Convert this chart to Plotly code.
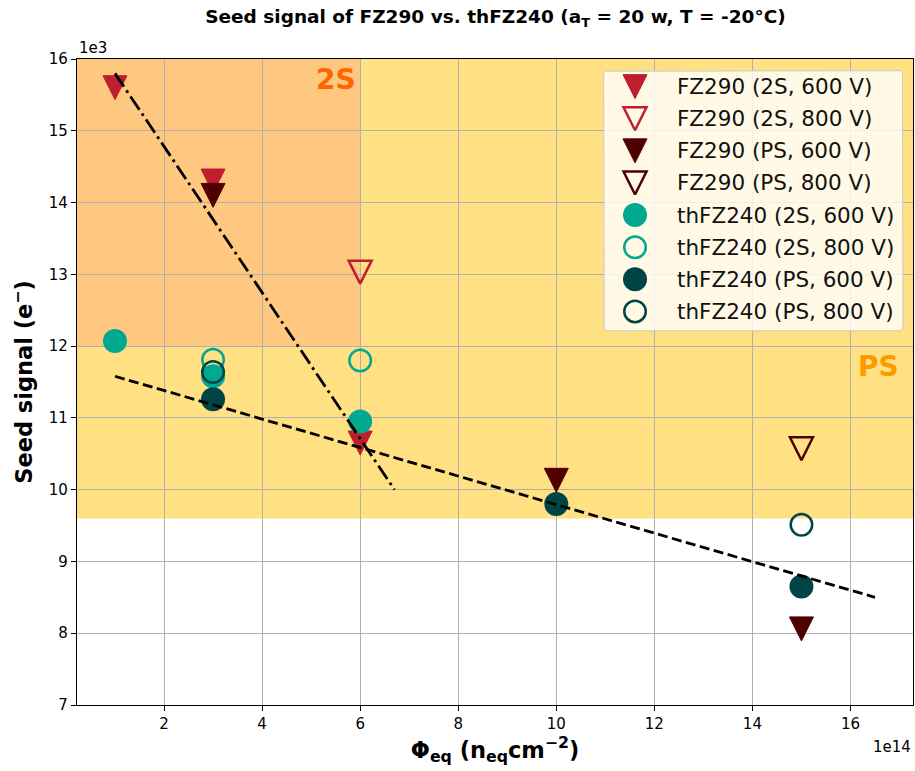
import math
import plotly.graph_objects as go

# Fluence in units of 1e14 n_eq/cm^2, seed signal in units of 1e3 electrons
fz290_2s_600_x = [1, 3, 6]
fz290_2s_600_y = [15.6, 14.3, 10.65]
fz290_2s_800_x = [6]
fz290_2s_800_y = [13.03]
fz290_ps_600_x = [3, 10, 15]
fz290_ps_600_y = [14.1, 10.13, 8.06]
fz290_ps_800_x = [15]
fz290_ps_800_y = [10.57]

thfz240_2s_600_x = [1, 3, 6]
thfz240_2s_600_y = [12.07, 11.58, 10.95]
thfz240_2s_800_x = [3, 6]
thfz240_2s_800_y = [11.81, 11.80]
thfz240_ps_600_x = [3, 10, 15]
thfz240_ps_600_y = [11.26, 9.80, 8.65]
thfz240_ps_800_x = [3, 15]
thfz240_ps_800_y = [11.64, 9.51]

# Linear trends (end points of the fitted lines)
fit_2s_x = [1.0, 6.7]
fit_2s_y = [15.8, 10.0]
fit_ps_x = [1.0, 16.5]
fit_ps_y = [11.58, 8.50]

# Signal requirement bands
ps_band_y = [9.6, 16.0]
s2_band_y = [12.0, 16.0]
s2_band_xmax = 6.0

x_range = [0.225, 17.275]
y_range = [7, 16]

RED = "#BE1E2D"
DARKRED = "#4F0000"
TEAL = "#00A88F"
DARKTEAL = "#004446"

series = [
    ("FZ290 (2S, 600 V)", fz290_2s_600_x, fz290_2s_600_y, RED, "tri", False),
    ("FZ290 (2S, 800 V)", fz290_2s_800_x, fz290_2s_800_y, RED, "tri", True),
    ("FZ290 (PS, 600 V)", fz290_ps_600_x, fz290_ps_600_y, DARKRED, "tri", False),
    ("FZ290 (PS, 800 V)", fz290_ps_800_x, fz290_ps_800_y, DARKRED, "tri", True),
    ("thFZ240 (2S, 600 V)", thfz240_2s_600_x, thfz240_2s_600_y, TEAL, "circ", False),
    ("thFZ240 (2S, 800 V)", thfz240_2s_800_x, thfz240_2s_800_y, TEAL, "circ", True),
    ("thFZ240 (PS, 600 V)", thfz240_ps_600_x, thfz240_ps_600_y, DARKTEAL, "circ", False),
    ("thFZ240 (PS, 800 V)", thfz240_ps_800_x, thfz240_ps_800_y, DARKTEAL, "circ", True),
]


def marker_style(color, kind, hollow):
    if kind == "tri":
        if hollow:
            return dict(symbol="arrow-down-open", size=23, standoff=11.5,
                        color=color, line=dict(color=color, width=2.5))
        return dict(symbol="arrow-down", size=24, standoff=12,
                    color=color, line=dict(color=color, width=1))
    if hollow:
        return dict(symbol="circle-open", size=21.5, color=color,
                    line=dict(color=color, width=2.5))
    return dict(symbol="circle", size=24, color=color, line=dict(width=0))


FONT = "DejaVu Sans"
fig = go.Figure()

for name, xs, ys, color, kind, hollow in series:
    fig.add_trace(go.Scatter(x=xs, y=ys, mode="markers", name=name,
                             marker=marker_style(color, kind, hollow),
                             showlegend=False, cliponaxis=False))

fig.add_trace(go.Scatter(x=fit_2s_x, y=fit_2s_y, mode="lines", showlegend=False,
                         line=dict(color="black", width=2.8,
                                   dash="16px,4.5px,2.8px,4.5px")))
fig.add_trace(go.Scatter(x=fit_ps_x, y=fit_ps_y, mode="lines", showlegend=False,
                         line=dict(color="black", width=2.8, dash="10px,4.5px")))

# Legend frame: rounded rectangle on an overlay axis spanning the plot domain
leg_x0, leg_x1 = 0.630, 0.988
leg_y0, leg_y1 = 0.5794, 0.9819
rad_x, rad_y = 0.0048, 0.0062
corners = [  # (centre x, centre y, start angle)
    (leg_x1 - rad_x, leg_y0 + rad_y, -90),
    (leg_x1 - rad_x, leg_y1 - rad_y, 0),
    (leg_x0 + rad_x, leg_y1 - rad_y, 90),
    (leg_x0 + rad_x, leg_y0 + rad_y, 180),
]
frame_x, frame_y = [], []
for cx, cy, a0 in corners:
    for k in range(7):
        a = math.radians(a0 + 15 * k)
        frame_x.append(cx + rad_x * math.cos(a))
        frame_y.append(cy + rad_y * math.sin(a))
frame_x.append(frame_x[0])
frame_y.append(frame_y[0])
fig.add_trace(go.Scatter(x=frame_x, y=frame_y, mode="lines", fill="toself",
                         fillcolor="rgba(255,255,255,0.8)",
                         line=dict(color="#CCCCCC", width=1),
                         xaxis="x2", yaxis="y2", showlegend=False,
                         hoverinfo="skip"))

row_top = 0.9572
row_step = 0.0497
marker_col = 0.6675
text_col = 0.7153

annotations = []
for i, (name, xs, ys, color, kind, hollow) in enumerate(series):
    ry_i = row_top - i * row_step
    fig.add_trace(go.Scatter(x=[marker_col], y=[ry_i], mode="markers",
                             xaxis="x2", yaxis="y2", showlegend=False,
                             hoverinfo="skip",
                             marker=marker_style(color, kind, hollow)))
    annotations.append(dict(text=name, xref="x domain", yref="y domain",
                            x=text_col, y=ry_i, xanchor="left", yanchor="middle",
                            showarrow=False,
                            font=dict(family=FONT, size=21.5, color="#111111")))

shapes = [
    dict(type="rect", layer="below", xref="x domain", yref="y",
         x0=0, x1=1, y0=ps_band_y[0], y1=ps_band_y[1],
         fillcolor="#FFE083", line=dict(width=0)),
    dict(type="rect", layer="below", xref="x", yref="y",
         x0=x_range[0], x1=s2_band_xmax, y0=s2_band_y[0], y1=s2_band_y[1],
         fillcolor="#FFC880", line=dict(width=0)),
]

annotations += [
    dict(text="<b>2S</b>", xref="x", yref="y", x=5.95, y=15.71,
         xanchor="right", yanchor="middle", showarrow=False,
         font=dict(family=FONT, size=28, color="#FF6600")),
    dict(text="<b>PS</b>", xref="x", yref="y", x=16.12, y=11.72,
         xanchor="left", yanchor="middle", showarrow=False,
         font=dict(family=FONT, size=28, color="#FF9900")),
    dict(text="1e3", xref="paper", yref="paper", x=0, y=1.017,
         xanchor="left", yanchor="middle", showarrow=False,
         font=dict(family=FONT, size=15, color="black")),
    dict(text="1e14", xref="paper", yref="paper", x=1, y=-0.0645,
         xanchor="right", yanchor="middle", showarrow=False,
         font=dict(family=FONT, size=15, color="black")),
]

axis_common = dict(showgrid=True, gridcolor="#B0B0B0", gridwidth=1,
                   showline=True, linecolor="black", linewidth=1.2, mirror=True,
                   ticks="outside", ticklen=5, tickwidth=1, tickcolor="black",
                   zeroline=False, tickfont=dict(family=FONT, size=15, color="black"))

fig.update_layout(
    width=915, height=771,
    margin=dict(l=77, r=2, t=59, b=66),
    paper_bgcolor="white", plot_bgcolor="white",
    showlegend=False,
    title=dict(text="<b>Seed signal of FZ290 vs. thFZ240 (a<sub>T</sub> = 20 w, T = -20°C)</b>",
               x=0.5415, xanchor="center", y=1 - 17 / 771, yanchor="middle",
               font=dict(family=FONT, size=18.5, color="black")),
    xaxis=dict(range=x_range, tick0=0, dtick=2,
               title=dict(text="<b>Φ<sub>eq</sub> (n<sub>eq</sub>cm<sup>−2</sup>)</b>",
                          font=dict(family=FONT, size=22.5, color="black"), standoff=7),
               **axis_common),
    yaxis=dict(range=y_range, tick0=0, dtick=1,
               title=dict(text="<b>Seed signal (e<sup>−</sup>)</b>",
                          font=dict(family=FONT, size=22.5, color="black"), standoff=9),
               **axis_common),
    xaxis2=dict(overlaying="x", range=[0, 1], visible=False, fixedrange=True),
    yaxis2=dict(overlaying="y", range=[0, 1], visible=False, fixedrange=True),
    shapes=shapes,
    annotations=annotations,
)

fig.write_html("out.html")
